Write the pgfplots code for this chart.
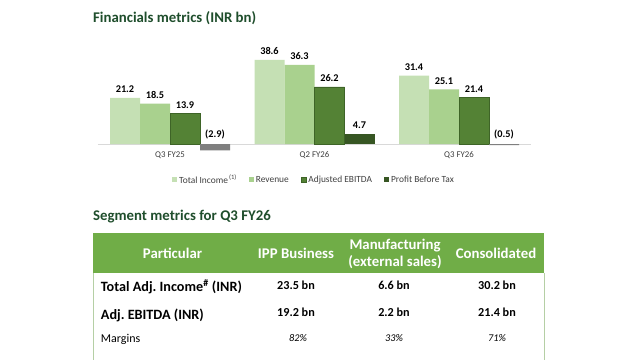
\documentclass[border=0pt]{standalone}
\usepackage{pgfplots}
\pgfplotsset{compat=1.18}
\usepackage{fontspec}
\setmainfont{Carlito}
\frenchspacing
\definecolor{cTI}{HTML}{C5E0B4}
\definecolor{cRV}{HTML}{A9D18E}
\definecolor{cEB}{HTML}{548235}
\definecolor{cEBd}{HTML}{3E6427}
\definecolor{cPB}{HTML}{375623}
\definecolor{cNeg}{HTML}{7F7F7F}
\definecolor{titlegreen}{HTML}{1F4E2C}
\definecolor{labelgray}{HTML}{404040}
\definecolor{basegray}{HTML}{D9D9D9}
\definecolor{hdrgreen}{HTML}{70AD47}
\definecolor{bordergreen}{HTML}{B5CFA5}
\begin{document}
\begin{tikzpicture}
\useasboundingbox (0,0) rectangle (640pt,360pt);
\fill[white] (0,0) rectangle (640pt,360pt);
\node[anchor=west, inner sep=0pt, text=titlegreen, font=\bfseries\fontsize{14.8}{17}\selectfont] at (93pt,342pt) {Financials metrics (INR bn)};
\begin{axis}[
  at={(97.75pt,211.6pt)}, anchor=south west,
  scale only axis, width=433.5pt, height=102.46pt,
  xmin=-0.5, xmax=2.5, ymin=-2, ymax=45,
  clip=false,
  ybar, bar width=30pt,
  axis line style={draw=none},
  ytick=\empty,
  xtick={0,1,2}, xticklabels={Q3 FY25,Q2 FY26,Q3 FY26},
  major tick length=0pt,
  xticklabel style={font=\fontsize{8.8}{10}\selectfont, text=labelgray},
  extra y ticks={0}, extra y tick labels={},
  extra y tick style={grid=major, major grid style={draw=basegray, line width=0.9pt}},
  point meta=explicit symbolic,
  nodes near coords,
  nodes near coords style={font=\bfseries\fontsize{10.3}{12}\selectfont, text=black, yshift=1.5pt},
  legend columns=4,
  legend style={at={(0.171,-0.308)}, anchor=west, draw=none, fill=none, inner sep=0pt,
    font=\fontsize{9.4}{11}\selectfont, text=labelgray,
    /tikz/every even column/.append style={column sep=10pt}},
  legend image code/.code={\fill[#1] (0pt,-2.5pt) rectangle (5pt,2.5pt);},
]
\addplot[fill=cTI, draw=none, bar shift=-45pt] coordinates {(0,21.2)[21.2] (1,38.6)[38.6] (2,31.4)[31.4]};
\addlegendentry{Total Income\textsuperscript{\,(1)}}
\addplot[fill=cRV, draw=none, bar shift=-15pt] coordinates {(0,18.5)[18.5] (1,36.3)[36.3] (2,25.1)[25.1]};
\addlegendentry{Revenue}
\addplot[fill=cEB, draw=cEBd, line width=0.6pt, bar shift=15pt] coordinates {(0,13.9)[13.9] (1,26.2)[26.2] (2,21.4)[21.4]};
\addlegendentry{Adjusted EBITDA}
\addplot[fill=cPB, draw=none, bar shift=45pt] coordinates {(1,4.7)[4.7]};
\addlegendentry{Profit Before Tax}
\addplot[forget plot, fill=cNeg, draw=none, bar shift=45pt, nodes near coords={}] coordinates {(0,-2.9)[-] (2,-0.5)[-]};
\addplot[forget plot, fill=none, draw=none, bar shift=45pt, nodes near coords style={yshift=-0.5pt}] coordinates {(0,0)[(2.9)] (2,0)[(0.5)]};
\end{axis}
% Segment table
\node[anchor=west, inner sep=0pt, text=titlegreen, font=\bfseries\fontsize{14.8}{17}\selectfont] at (93pt,143pt) {Segment metrics for Q3 FY26};
\fill[hdrgreen] (93pt,127pt) rectangle (544pt,87pt);
\draw[bordergreen, line width=0.8pt] (93pt,87pt) -- (93pt,0pt);
\draw[bordergreen, line width=0.8pt] (544pt,87pt) -- (544pt,0pt);
\begin{scope}[every node/.style={inner sep=0pt, text=white, font=\bfseries\fontsize{14.8}{17}\selectfont, align=center}]
\node at (172.5pt,107pt) {Particular};
\node at (296pt,107pt) {IPP Business};
\node at (395pt,106pt) {Manufacturing\\(external sales)};
\node at (496pt,107pt) {Consolidated};
\end{scope}
\begin{scope}[every node/.style={inner sep=0pt, text=black}]
\node[anchor=west, font=\bfseries\fontsize{14.2}{16}\selectfont] at (100.7pt,73.3pt) {Total Adj. Income\textsuperscript{\#} (INR)};
\node[anchor=west, font=\bfseries\fontsize{14.2}{16}\selectfont] at (100.7pt,45pt) {Adj. EBITDA (INR)};
\node[anchor=west, font=\fontsize{12}{14}\selectfont] at (100.7pt,21pt) {Margins};
\node[font=\bfseries\fontsize{12.2}{14}\selectfont] at (296pt,75pt) {23.5 bn};
\node[font=\bfseries\fontsize{12.2}{14}\selectfont] at (394pt,75pt) {6.6 bn};
\node[font=\bfseries\fontsize{12.2}{14}\selectfont] at (497pt,75pt) {30.2 bn};
\node[font=\bfseries\fontsize{12.2}{14}\selectfont] at (296pt,48pt) {19.2 bn};
\node[font=\bfseries\fontsize{12.2}{14}\selectfont] at (394pt,48pt) {2.2 bn};
\node[font=\bfseries\fontsize{12.2}{14}\selectfont] at (497pt,48pt) {21.4 bn};
\node[font=\itshape\fontsize{10.3}{12}\selectfont] at (298pt,22pt) {82\%};
\node[font=\itshape\fontsize{10.3}{12}\selectfont] at (394pt,22pt) {33\%};
\node[font=\itshape\fontsize{10.3}{12}\selectfont] at (497pt,22pt) {71\%};
\end{scope}
\end{tikzpicture}
\end{document}
